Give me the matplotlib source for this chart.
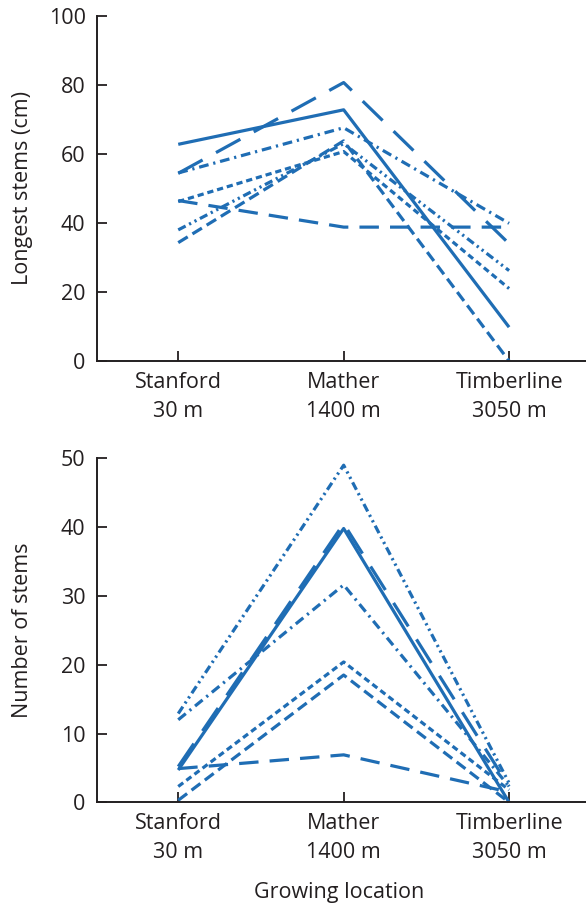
import matplotlib
matplotlib.use("Agg")
import matplotlib.pyplot as plt

plt.rcParams['font.family'] = ['Open Sans', 'DejaVu Sans']
plt.rcParams['lines.scale_dashes'] = False

locations = ["Stanford\n30 m", "Mather\n1400 m", "Timberline\n3050 m"]
positions = [0, 1, 2]

# Longest stems (cm) per population
top_solid = [62.8, 72.8, 9.8]
top_vlong = [54.4, 80.7, 34.0]
top_dashdot = [54.5, 67.6, 39.9]
top_short = [46.2, 60.7, 21.0]
top_long = [46.5, 38.8, 38.8]
top_dashdotdot = [38.0, 63.0, 26.2]
top_medium = [34.3, 63.8, 0.0]

# Number of stems per population
bot_solid = [4.7, 39.8, 0.0]
bot_vlong = [5.2, 40.5, 2.3]
bot_dashdot = [12.0, 31.6, 2.3]
bot_short = [2.3, 20.4, 1.8]
bot_long = [4.9, 6.9, 1.5]
bot_dashdotdot = [12.9, 49.0, 2.8]
bot_medium = [0.3, 18.5, 0.0]

color = "#1f6db4"
text_color = "#231f20"
fs = 15.5

styles = {
    "solid": "-",
    "vlong": (0, (20, 11)),
    "dashdot": (0, (7, 3.5, 1.6, 3.5)),
    "short": (0, (4.5, 2.8)),
    "long": (0, (14, 8)),
    "dashdotdot": (0, (6, 2.8, 1.6, 2.8, 1.6, 2.8)),
    "medium": (0, (8, 4)),
}

fig = plt.figure(figsize=(5.86, 9.07), dpi=100)
ax1 = fig.add_axes([0.165, 0.602, 0.835, 0.3804])
ax2 = fig.add_axes([0.165, 0.1154, 0.835, 0.3793])

top_series = [("solid", top_solid), ("vlong", top_vlong), ("dashdot", top_dashdot),
              ("short", top_short), ("long", top_long), ("dashdotdot", top_dashdotdot),
              ("medium", top_medium)]
bot_series = [("solid", bot_solid), ("vlong", bot_vlong), ("dashdot", bot_dashdot),
              ("short", bot_short), ("long", bot_long), ("dashdotdot", bot_dashdotdot),
              ("medium", bot_medium)]

for ax, series, ylim, yticks, ylabel in [
        (ax1, top_series, (0, 100), [0, 20, 40, 60, 80, 100], "Longest stems (cm)"),
        (ax2, bot_series, (0, 50), [0, 10, 20, 30, 40, 50], "Number of stems")]:
    for key, vals in series:
        ax.plot(positions, vals, linestyle=styles[key], color=color, lw=2.3,
                solid_capstyle='butt', dash_capstyle='butt', clip_on=False)
    ax.set_xlim(-0.493, 2.465)
    ax.set_ylim(*ylim)
    ax.set_yticks(yticks)
    ax.set_xticks(positions)
    ax.set_xticklabels(locations, fontsize=fs, color=text_color, linespacing=1.5)
    ax.tick_params(axis='y', labelsize=fs, labelcolor=text_color)
    ax.tick_params(direction='in', length=7.5, width=1.3, color=text_color)
    ax.tick_params(axis='y', pad=8)
    ax.tick_params(axis='x', pad=8)
    for s in ['top', 'right']:
        ax.spines[s].set_visible(False)
    for s in ['left', 'bottom']:
        ax.spines[s].set_linewidth(1.4)
        ax.spines[s].set_color(text_color)
    ax.set_ylabel(ylabel, fontsize=fs, color=text_color, va='center')
    ax.yaxis.set_label_coords(-0.152, 0.5)

ax2.set_xlabel("Growing location", fontsize=fs, color=text_color, va='center')
ax2.xaxis.set_label_coords(0.495, -0.261)

fig.savefig("out.png", dpi=100)
